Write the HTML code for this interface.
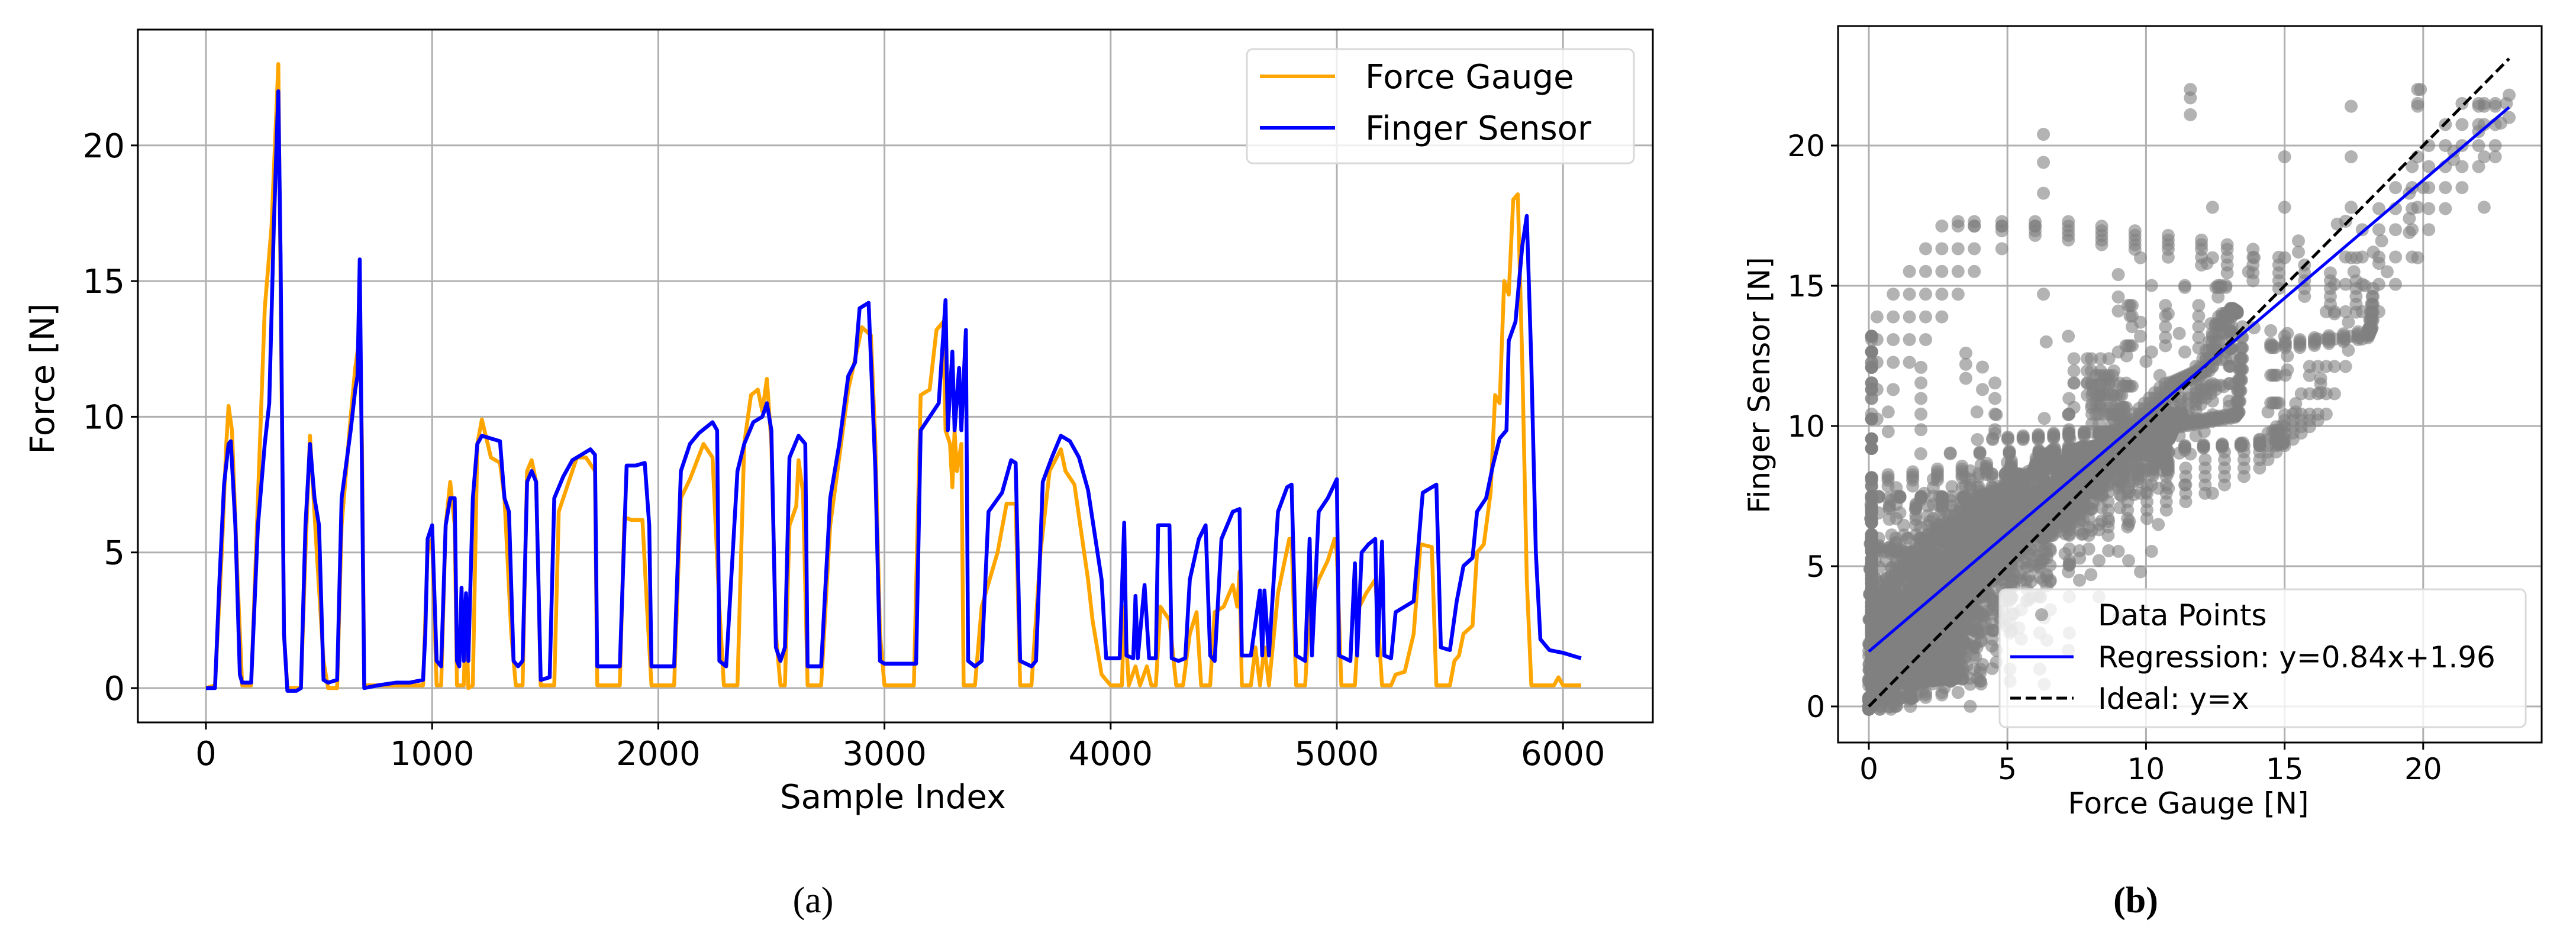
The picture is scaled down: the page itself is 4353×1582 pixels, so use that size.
<!DOCTYPE html>
<html><head><meta charset="utf-8">
<style>
html,body{margin:0;padding:0;background:#fff;}
svg{display:block;}
text{font-family:"DejaVu Sans","Liberation Sans",sans-serif;fill:#000;}
</style></head>
<body>
<svg id="fig" width="4353" height="1582" viewBox="0 0 4353 1582" xmlns="http://www.w3.org/2000/svg">
<g id="left"></g>
<g id="right"></g>
<text x="1374" y="1542" text-anchor="middle" style="font-family:'Liberation Serif',serif;font-size:62px">(a)</text>
<text x="3609" y="1542" text-anchor="middle" style="font-family:'Liberation Serif',serif;font-size:62px;font-weight:bold">(b)</text>
</svg>
<script>
// ---- Time series data (sample index, value) ----
const gaugeIdx=[0,40,70,90,100,115,140,160,200,230,260,290,310,320,330,345,360,420,440,460,490,520,540,580,600,640,660,680,690,700,960,980,1000,1020,1040,1060,1080,1100,1110,1140,1150,1160,1180,1200,1220,1260,1300,1320,1350,1370,1400,1420,1440,1460,1480,1540,1560,1600,1640,1680,1720,1730,1830,1850,1880,1930,1950,1970,2070,2100,2140,2200,2240,2270,2290,2350,2380,2410,2440,2460,2480,2500,2520,2540,2560,2580,2610,2620,2640,2660,2720,2760,2800,2840,2880,2900,2940,2960,2980,3000,3130,3160,3200,3230,3260,3270,3290,3300,3310,3320,3340,3350,3400,3430,3500,3540,3580,3600,3650,3690,3730,3780,3800,3840,3900,3920,3960,4000,4050,4060,4080,4110,4130,4160,4180,4200,4220,4260,4290,4320,4350,4380,4400,4440,4460,4500,4540,4560,4570,4580,4620,4640,4660,4680,4700,4740,4790,4800,4820,4860,4880,4920,4960,4990,5000,5020,5080,5100,5130,5170,5200,5240,5260,5300,5340,5370,5420,5440,5500,5520,5540,5560,5600,5620,5650,5680,5700,5720,5740,5760,5780,5800,5820,5840,5860,5960,5980,6000,6080];
const gaugeVal=[0,0.1,5,9,10.4,9.5,4,0.1,0.1,7,14,17,21,23,15,2,0,0,5,9.3,5,1,0,0,6,10,11.8,13,9,0.1,0.1,5,5.5,0.1,0.1,6,7.6,6,0.1,0.1,3,0,0.1,9,9.9,8.5,8.3,7,2,0.1,0.1,8,8.4,7.6,0.1,0.1,6.5,7.5,8.5,8.5,8,0.1,0.1,6.3,6.2,6.2,3,0.1,0.1,7,7.7,9,8.5,3,0.1,0.1,9,10.8,11,10.2,11.4,9,2,0.1,0.1,6,6.7,8.4,7.2,0.1,0.1,6,8.5,11,12.5,13.3,13,9,2,0.1,0.1,10.8,11,13.2,13.5,9.5,9,7.4,9.5,8,9,0.1,0.1,3,5,6.8,6.8,0.1,0.1,5,8,8.8,8,7.5,4,2.5,0.5,0.1,0.1,3,0.1,0.8,0.1,0.8,0.1,0.1,3,2.5,0.1,0.1,2,2.8,0.1,0.1,2.8,3,3.8,3,4.3,0.1,0.1,1.5,0.1,1.5,0.1,3.5,5.5,5.5,0.1,0.1,3,4,4.7,5.5,5,0.1,0.1,3,3.5,4,0.1,0.1,0.5,0.6,2,5.3,5.2,0.1,0.1,1,1.2,2,2.3,5,5.3,7.2,10.8,10.5,15,14.5,18,18.2,12,4,0.1,0.1,0.4,0.1,0.1];
const sensorIdx=[0,40,60,80,100,110,130,150,160,200,230,260,280,300,320,330,345,360,400,420,440,460,480,500,520,540,580,600,640,660,670,680,700,760,840,900,960,970,980,1000,1020,1040,1060,1080,1100,1110,1120,1130,1140,1150,1160,1180,1200,1220,1260,1300,1320,1340,1360,1380,1400,1420,1440,1460,1480,1520,1540,1580,1620,1660,1700,1720,1730,1830,1860,1900,1940,1960,1970,2070,2100,2140,2180,2240,2260,2270,2300,2350,2380,2420,2460,2480,2500,2520,2540,2560,2580,2620,2650,2660,2720,2760,2800,2840,2870,2890,2930,2960,2980,3000,3140,3160,3200,3240,3270,3280,3300,3310,3330,3340,3360,3370,3400,3430,3460,3520,3560,3580,3600,3650,3670,3700,3740,3780,3820,3860,3900,3960,3980,4040,4060,4070,4100,4110,4120,4150,4170,4200,4210,4260,4270,4300,4330,4350,4390,4420,4440,4460,4490,4540,4570,4580,4620,4660,4670,4680,4700,4740,4780,4800,4820,4860,4880,4890,4920,4960,5000,5010,5060,5080,5090,5110,5140,5170,5180,5200,5210,5240,5260,5300,5340,5380,5440,5460,5500,5530,5560,5600,5620,5660,5690,5720,5750,5760,5790,5820,5840,5860,5880,5900,5940,6000,6080];
const sensorVal=[0,0,4,7.5,9,9.1,6,0.5,0.2,0.2,6,9,10.5,17,22,16,2,-0.1,-0.1,0,6,9,7,6,0.3,0.2,0.3,7,9.5,11,11.5,15.8,0,0.1,0.2,0.2,0.3,2,5.5,6,1,0.8,6,7,7,1,0.8,3.7,1,3.5,1,7,9,9.3,9.2,9.1,7,6.5,1,0.8,1,7.6,8,7.6,0.3,0.4,7,7.8,8.4,8.6,8.8,8.6,0.8,0.8,8.2,8.2,8.3,6,0.8,0.8,8,9,9.4,9.8,9.5,1,0.8,8,9,9.8,10,10.5,9.5,1.5,1,1.5,8.5,9.3,9,0.8,0.8,7,9,11.5,12,14,14.2,8,1,0.9,0.9,9.5,10,10.5,14.3,9.5,12.4,9.5,11.8,9.5,13.2,1,0.8,1,6.5,7.2,8.4,8.3,1,0.8,1,7.6,8.5,9.3,9.1,8.5,7.3,4,1.1,1.1,6.1,1.2,1.1,3.4,1.1,3.8,1.1,1.1,6,6,1.1,1,1.1,4,5.5,6,1.2,1,5.5,6.5,6.6,1.2,1.2,3.6,1.2,3.6,1.2,6.5,7.4,7.5,1.2,1,5.5,1.2,6.5,7,7.7,1.2,1,4.6,1.2,5,5.3,5.5,1.2,5.4,1.2,1.1,2.8,3,3.2,7.2,7.5,1.5,1.4,3.2,4.5,4.8,6.5,7,8.2,9.2,9.5,12.8,13.5,16.3,17.4,12,5,1.8,1.4,1.3,1.1];
const xTicksL=[0,1000,2000,3000,4000,5000,6000];
const yTicksL=[0,5,10,15,20];

// ---- Scatter data ----
const outlierX=[6.3,6.3,6.3,6.3,6.4,11.6,11.6,11.6,19.8,19.9,3.5,3.5,3.5,4.1,4.1,3.9,0.7,0.7,1.9,2.7,2.7,17.3,17.3,17.5,17.9,18.2,18.7,19.5,19.5,21.1,21.1,22,22.8,23,23.1,23.1,20,19.5,15.5,15.5,16.3,16.3,15.4,15.4,13.9,14.5,15.1,15.1,15.1,14.1,14.9,12.2,12.6,13.2,13.5,12.1,11.6,10.8,11.2,9,9,9,9.8,10,13.7,13.9,16.9,17.2,16.8,18.5,18.4,17.6,14.4,15.9,16.3,13,12.8,10.5,9.3,8.6,8.1];
const outlierY=[20.4,19.4,18.3,14.7,13,22,21.7,21.1,22,22,12.6,12.2,11.7,12.1,11.3,10.5,10.5,9.8,2,1,1.6,13.7,12.7,15.5,15,16.2,15.5,17.4,16.9,19.5,19.8,20.5,20.8,21.5,21,21.8,18.5,18.3,16.6,16.2,11.5,11.2,10.8,10.5,13.5,13.4,13.3,12.5,12,9.5,10,15.8,14.6,11.5,9.4,9.8,9,14,13.3,15.4,14.6,14.1,13.7,12.3,15.5,16,17.2,17.3,14,16.6,15.8,16,10.5,11.8,11.7,10.7,11.4,11.8,12.5,11.7,11.2];
const sampleLags=[-6,-3,0,3,6];
const xTicksR=[0,5,10,15,20];
const yTicksR=[0,5,10,15,20];
const regSlope=0.84, regIntercept=1.96;

const NS="http://www.w3.org/2000/svg";
function mk(tag,attrs,parent){const e=document.createElementNS(NS,tag);for(const k in attrs)e.setAttribute(k,attrs[k]);parent.appendChild(e);return e;}

// ---------- Left chart ----------
const L=document.getElementById('left');
const LX0=233,LX1=2793,LY0=50,LY1=1221;
const lx=v=>348+v*0.3822;
const ly=v=>1163-v*45.86;
mk('rect',{x:LX0,y:LY0,width:LX1-LX0,height:LY1-LY0,fill:'#fff'},L);
const lclip=mk('clipPath',{id:'lclip'},L);
mk('rect',{x:LX0,y:LY0,width:LX1-LX0,height:LY1-LY0},lclip);
xTicksL.forEach(t=>{
  const g=mk('line',{x1:lx(t),x2:lx(t),y1:LY0,y2:LY1,stroke:'#b0b0b0','stroke-width':3},L);
  
  
  mk('line',{x1:lx(t),x2:lx(t),y1:LY1,y2:LY1+12,stroke:'#000','stroke-width':3},L);
  const tx=mk('text',{x:lx(t),y:LY1+72,'text-anchor':'middle','font-size':56},L);
  tx.textContent=t;
  
  
});
yTicksL.forEach(t=>{
  const g=mk('line',{x1:LX0,x2:LX1,y1:ly(t),y2:ly(t),stroke:'#b0b0b0','stroke-width':3},L);
  
  
  mk('line',{x1:LX0-12,x2:LX0,y1:ly(t),y2:ly(t),stroke:'#000','stroke-width':3},L);
  const tx=mk('text',{x:LX0-22,y:ly(t)+20,'text-anchor':'end','font-size':56},L);
  tx.textContent=t;
  
  
});
function pathFrom(idx,val,fx,fy){return idx.map((s,i)=>(i?'L':'M')+fx(s).toFixed(1)+','+fy(val[i]).toFixed(1)).join('');}
const pg=mk('path',{d:pathFrom(gaugeIdx,gaugeVal,lx,ly),fill:'none',stroke:'#ffa500','stroke-width':6.5,'stroke-linejoin':'round','clip-path':'url(#lclip)'},L);


const ps=mk('path',{d:pathFrom(sensorIdx,sensorVal,lx,ly),fill:'none',stroke:'#0000ff','stroke-width':6.5,'stroke-linejoin':'round','clip-path':'url(#lclip)'},L);


mk('rect',{x:LX0,y:LY0,width:LX1-LX0,height:LY1-LY0,fill:'none',stroke:'#000','stroke-width':3},L);
let t1=mk('text',{x:1509,y:1366,'text-anchor':'middle','font-size':56},L);t1.textContent='Sample Index';


let t2=mk('text',{x:0,y:0,'text-anchor':'middle','font-size':56,transform:'translate(91,640) rotate(-90)'},L);t2.textContent='Force [N]';


const lg=mk('g',{},L);


mk('rect',{x:2107,y:83,width:654,height:193,rx:10,fill:'#fff','fill-opacity':0.8,stroke:'#d9d9d9','stroke-width':3},lg);
mk('line',{x1:2129,x2:2256,y1:129,y2:129,stroke:'#ffa500','stroke-width':6},lg);
mk('line',{x1:2129,x2:2256,y1:216,y2:216,stroke:'#0000ff','stroke-width':6},lg);
let e1=mk('text',{x:2307,y:149,'font-size':56},lg);e1.textContent='Force Gauge';


let e2=mk('text',{x:2307,y:236,'font-size':56},lg);e2.textContent='Finger Sensor';



// ---------- Right chart ----------
const R=document.getElementById('right');
const RX0=3106,RX1=4295,RY0=44,RY1=1255;
const rx=v=>3158+v*46.84;
const ry=v=>1194-v*47.4;
const rclip=mk('clipPath',{id:'rclip'},R);
mk('rect',{x:RX0,y:RY0,width:RX1-RX0,height:RY1-RY0},rclip);
xTicksR.forEach(t=>{
  const g=mk('line',{x1:rx(t),x2:rx(t),y1:RY0,y2:RY1,stroke:'#b0b0b0','stroke-width':3},R);
  
  
  mk('line',{x1:rx(t),x2:rx(t),y1:RY1,y2:RY1+12,stroke:'#000','stroke-width':3},R);
  const tx=mk('text',{x:rx(t),y:RY1+62,'text-anchor':'middle','font-size':50},R);
  tx.textContent=t;
  
  
});
yTicksR.forEach(t=>{
  const g=mk('line',{x1:RX0,x2:RX1,y1:ry(t),y2:ry(t),stroke:'#b0b0b0','stroke-width':3},R);
  
  
  mk('line',{x1:RX0-12,x2:RX0,y1:ry(t),y2:ry(t),stroke:'#000','stroke-width':3},R);
  const tx=mk('text',{x:RX0-22,y:ry(t)+18,'text-anchor':'end','font-size':50},R);
  tx.textContent=t;
  
  
});
function interp(idx,val,s){
  if(s<=idx[0])return val[0];
  for(let i=1;i<idx.length;i++){if(s<=idx[i]){const f=(s-idx[i-1])/(idx[i]-idx[i-1]);return val[i-1]+f*(val[i]-val[i-1]);}}
  return val[val.length-1];
}
const sg=mk('g',{'clip-path':'url(#rclip)',fill:'#808080','fill-opacity':0.6},R);


sampleLags.forEach(lag=>{
  for(let s=0;s<=6080;s+=3){
    const gx=Math.max(0,interp(gaugeIdx,gaugeVal,s)), sy=interp(sensorIdx,sensorVal,Math.min(6080,Math.max(0,s+lag)));
    const c=mk('circle',{cx:rx(gx).toFixed(1),cy:ry(sy).toFixed(1),r:11},sg);
    
    
  }
});
outlierX.forEach((x,i)=>{
  const c=mk('circle',{cx:rx(x),cy:ry(outlierY[i]),r:11},sg);
  
  
});
const xEnd=23.1;
const ideal=mk('line',{x1:rx(0),y1:ry(0),x2:rx(xEnd),y2:ry(xEnd),stroke:'#000','stroke-width':5,'stroke-dasharray':'18,8'},R);


const reg=mk('line',{x1:rx(0),y1:ry(regIntercept),x2:rx(xEnd),y2:ry(regSlope*xEnd+regIntercept),stroke:'#0000ff','stroke-width':5},R);


mk('rect',{x:RX0,y:RY0,width:RX1-RX0,height:RY1-RY0,fill:'none',stroke:'#000','stroke-width':3},R);
let t3=mk('text',{x:3698,y:1375,'text-anchor':'middle','font-size':50},R);t3.textContent='Force Gauge [N]';


let t4=mk('text',{x:0,y:0,'text-anchor':'middle','font-size':50,transform:'translate(2990,651) rotate(-90)'},R);t4.textContent='Finger Sensor [N]';


const rl=mk('g',{},R);


mk('rect',{x:3379,y:996,width:889,height:233,rx:10,fill:'#fff','fill-opacity':0.8,stroke:'#d9d9d9','stroke-width':3},rl);
mk('circle',{cx:3450,cy:1039,r:11,fill:'#808080','fill-opacity':0.6},rl);
mk('line',{x1:3397,x2:3504,y1:1110,y2:1110,stroke:'#0000ff','stroke-width':5},rl);
mk('line',{x1:3397,x2:3504,y1:1180,y2:1180,stroke:'#000','stroke-width':5,'stroke-dasharray':'18,8'},rl);
[['Data Points',1057,'legend-entry-data-points'],['Regression: y=0.84x+1.96',1128,'legend-entry-regression'],['Ideal: y=x',1198,'legend-entry-ideal']].forEach(a=>{
  const tx=mk('text',{x:3545,y:a[1],'font-size':50},rl);tx.textContent=a[0];
  
  
});
</script>
</body></html>
